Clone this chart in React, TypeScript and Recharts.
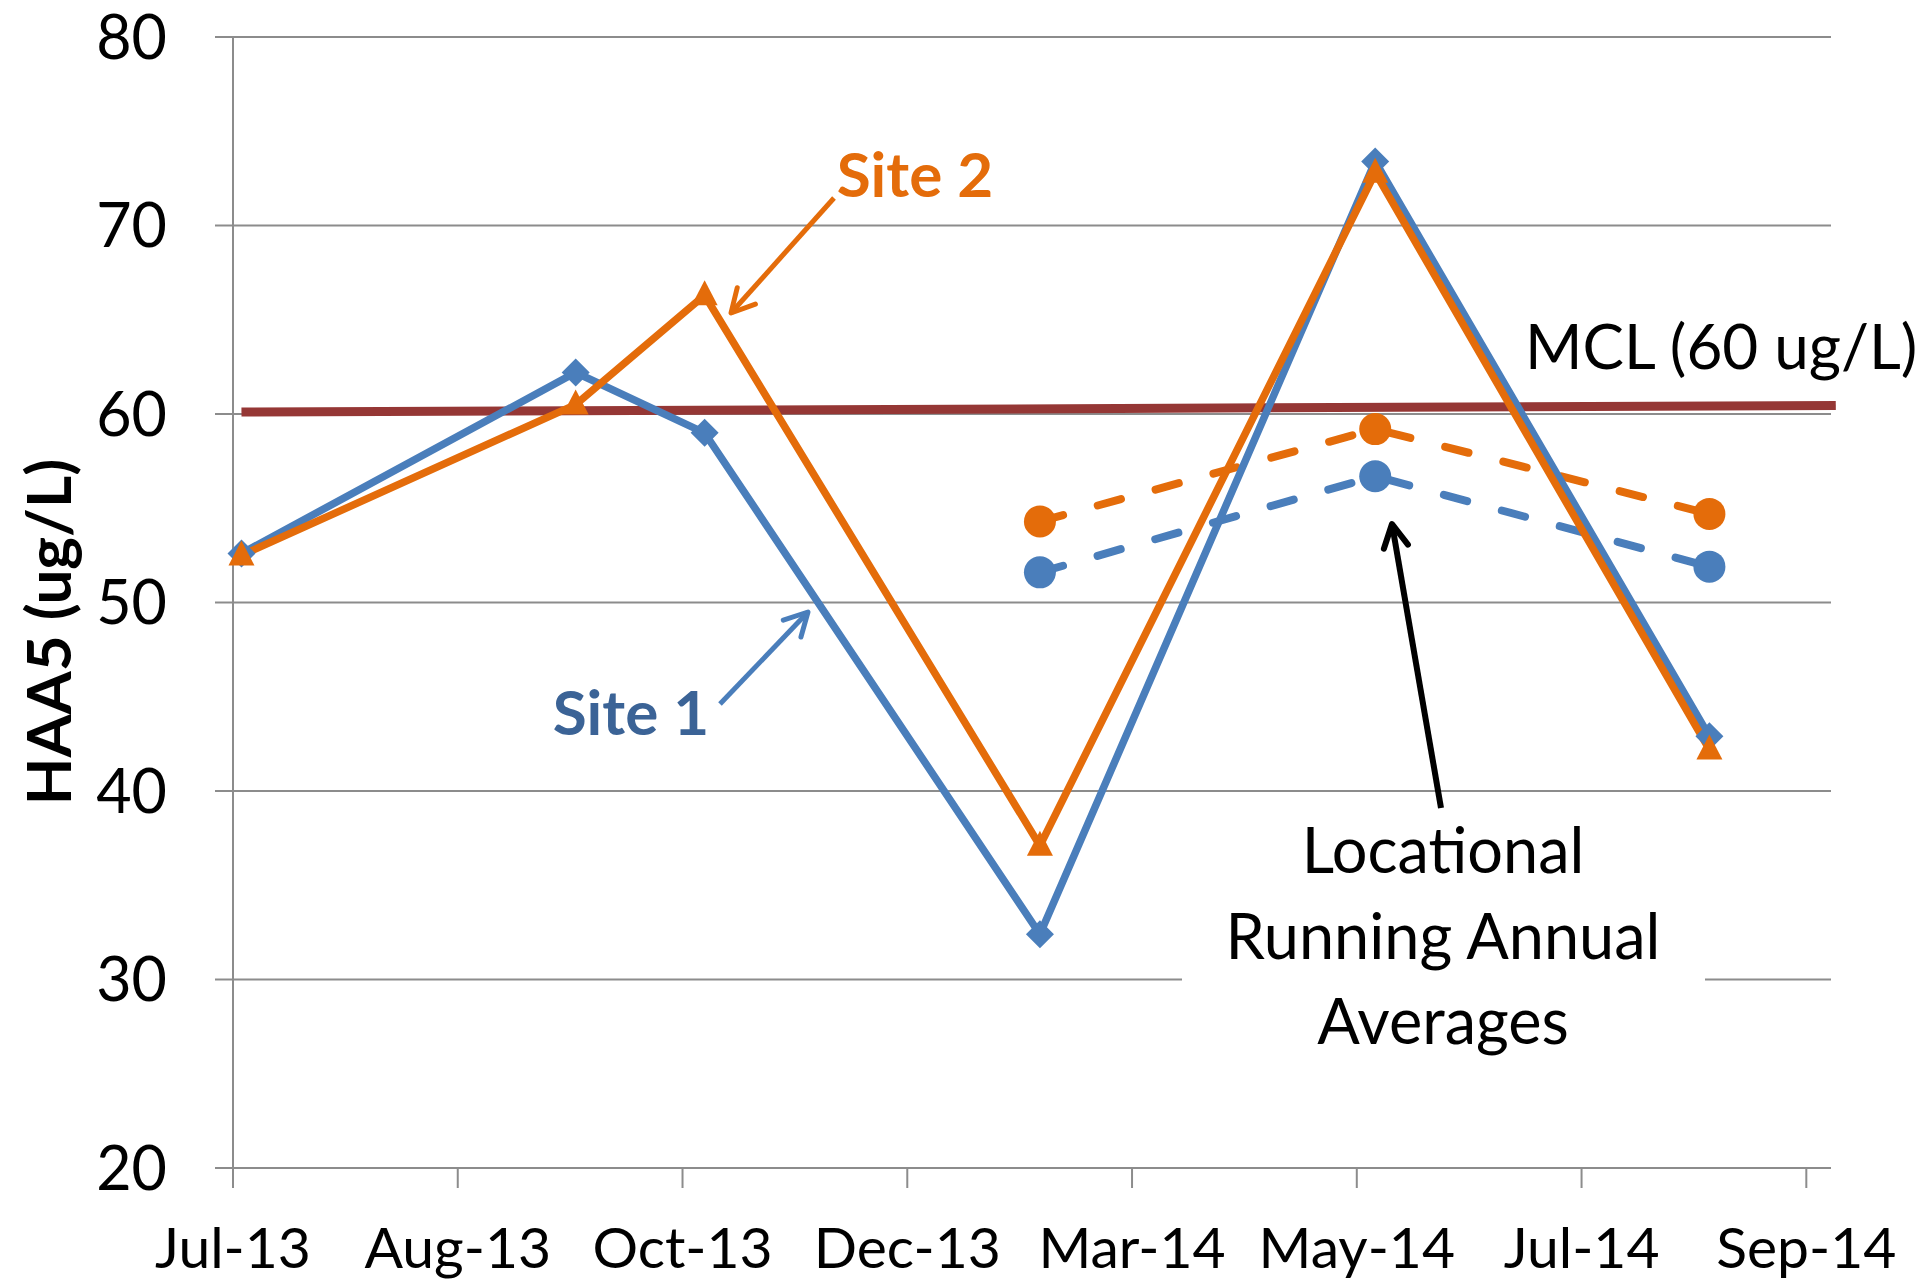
import React from "react";
import { LineChart, Line, XAxis, YAxis, CartesianGrid, ReferenceLine } from "recharts";

// sample dates, in days after 1 Jul 2013
const sampleDays = [2.3, 93, 128, 219, 310, 400.7];
const site1 = [52.6, 62.2, 59.0, 32.4, 73.4, 42.9];
const site2 = [52.5, 60.5, 66.3, 37.1, 72.8, 42.2];
const lraa1: (number | null)[] = [null, null, null, 51.6, 56.7, 51.9];
const lraa2: (number | null)[] = [null, null, null, 54.3, 59.2, 54.7];

const mclDays = [2.3, 435];
const mclValues = [60.1, 60.45];

const xTickDays = [0, 61, 122, 183, 244, 305, 366, 427];
const xTickLabels = ["Jul-13", "Aug-13", "Oct-13", "Dec-13", "Mar-14", "May-14", "Jul-14", "Sep-14"];
const yTicks = [20, 30, 40, 50, 60, 70, 80];

const data = sampleDays.map((d, i) => ({
  day: d,
  site1: site1[i],
  site2: site2[i],
  lraa1: lraa1[i],
  lraa2: lraa2[i],
}));

const BLUE = "#4A7EBB";
const ORANGE = "#E46C0A";
const MCL = "#953735";
const GRID = "#8C8C8C";
const FONT = "Lato, 'Open Sans', sans-serif";

const Diamond = (props: any) => {
  const { cx, cy, index } = props;
  if (cx == null || cy == null) return <g key={index} />;
  const s = 14;
  return <polygon key={index} points={`${cx},${cy - s} ${cx + s},${cy} ${cx},${cy + s} ${cx - s},${cy}`} fill={BLUE} />;
};

const Triangle = (props: any) => {
  const { cx, cy, index } = props;
  if (cx == null || cy == null) return <g key={index} />;
  return <polygon key={index} points={`${cx},${cy - 15} ${cx + 13},${cy + 10} ${cx - 13},${cy + 10}`} fill={ORANGE} />;
};

const makeCircle = (color: string) => (props: any) => {
  const { cx, cy, index, value } = props;
  if (cx == null || cy == null || value == null) return <g key={index} />;
  return <circle key={index} cx={cx} cy={cy} r={16} fill={color} />;
};

function Arrow({ x1, y1, x2, y2, color, width }: { x1: number; y1: number; x2: number; y2: number; color: string; width: number }) {
  const ang = Math.atan2(y1 - y2, x1 - x2);
  const L = 26;
  const a = (28 * Math.PI) / 180;
  const w1x = x2 + L * Math.cos(ang + a);
  const w1y = y2 + L * Math.sin(ang + a);
  const w2x = x2 + L * Math.cos(ang - a);
  const w2y = y2 + L * Math.sin(ang - a);
  return (
    <g stroke={color} strokeWidth={width} fill="none" strokeLinecap="round" strokeLinejoin="round">
      <line x1={x1} y1={y1} x2={x2} y2={y2} strokeLinecap="butt" />
      <polyline points={`${w1x},${w1y} ${x2},${y2} ${w2x},${w2y}`} />
    </g>
  );
}

export default function App() {
  return (
    <div style={{ position: "relative", left: -8, top: -8, width: 1926, height: 1281 }}>
      <LineChart width={1926} height={1281} data={data} margin={{ top: 37, right: 95, bottom: 0, left: 0 }}>
        <CartesianGrid horizontal vertical={false} stroke={GRID} strokeWidth={2} />
        <XAxis
          dataKey="day"
          type="number"
          domain={[0, 433.7]}
          ticks={xTickDays}
          interval={0}
          tickFormatter={(v: number) => xTickLabels[xTickDays.indexOf(v)] ?? ""}
          height={113}
          tickSize={20}
          tickMargin={40}
          stroke={GRID}
          strokeWidth={2}
          tick={{ fill: "#000", fontSize: 57, fontFamily: FONT }}
        />
        <YAxis
          type="number"
          domain={[20, 80]}
          ticks={yTicks}
          interval={0}
          width={233}
          tickSize={18}
          tickMargin={48}
          stroke={GRID}
          strokeWidth={2}
          tick={{ fill: "#000", fontSize: 61, fontFamily: FONT }}
        />
        <ReferenceLine
          segment={[
            { x: mclDays[0], y: mclValues[0] },
            { x: mclDays[1], y: mclValues[1] },
          ]}
          stroke={MCL}
          strokeWidth={9}
          ifOverflow="visible"
        />
        <Line dataKey="lraa1" stroke={BLUE} strokeWidth={8} strokeDasharray="24 36" strokeLinecap="round" dot={makeCircle(BLUE)} activeDot={false} isAnimationActive={false} />
        <Line dataKey="lraa2" stroke={ORANGE} strokeWidth={8} strokeDasharray="24 36" strokeLinecap="round" dot={makeCircle(ORANGE)} activeDot={false} isAnimationActive={false} />
        <Line dataKey="site1" stroke={BLUE} strokeWidth={7.5} dot={Diamond} activeDot={false} isAnimationActive={false} />
        <Line dataKey="site2" stroke={ORANGE} strokeWidth={7.5} dot={Triangle} activeDot={false} isAnimationActive={false} />
      </LineChart>
      <svg width={1926} height={1281} style={{ position: "absolute", left: 0, top: 0, pointerEvents: "none" }}>
        <g fontFamily={FONT}>
          <text x={47} y={632} transform="rotate(-90 47 632)" textAnchor="middle" dominantBaseline="central" fontSize={62} fontWeight="bold" fill="#000">
            HAA5 (ug/L)
          </text>
          <text x={915} y={197} textAnchor="middle" fontSize={62} fontWeight="bold" fill={ORANGE}>Site 2</text>
          <Arrow x1={834} y1={198} x2={731} y2={313} color={ORANGE} width={5} />
          <text x={631} y={735} textAnchor="middle" fontSize={62} fontWeight="bold" fill="#3B6396">Site 1</text>
          <Arrow x1={720} y1={704} x2={808} y2={612} color={BLUE} width={5} />
          <text x={1525} y={369} fontSize={62} fill="#000">MCL (60 ug/L)</text>
          <rect x={1182} y={815} width={523} height={255} fill="#fff" />
          <Arrow x1={1441} y1={808} x2={1392} y2={524} color="#000" width={6} />
          <text x={1443} y={873} textAnchor="middle" fontSize={63} fill="#000">Locational</text>
          <text x={1443} y={959} textAnchor="middle" fontSize={63} fill="#000">Running Annual</text>
          <text x={1443} y={1044} textAnchor="middle" fontSize={63} fill="#000">Averages</text>
        </g>
      </svg>
    </div>
  );
}
